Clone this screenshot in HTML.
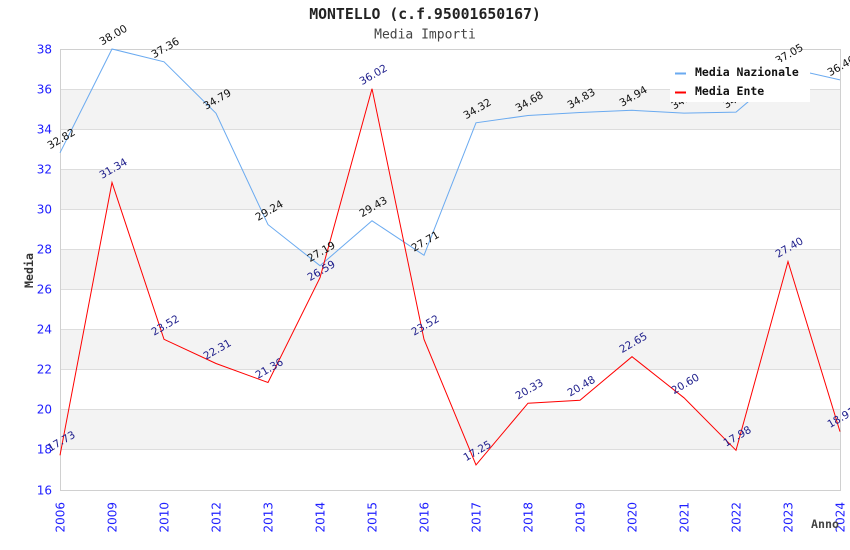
<!DOCTYPE html>
<html><head><meta charset="utf-8"><style>
html,body{margin:0;padding:0;background:#fff;}
svg{display:block;}
.t{font-family:"DejaVu Sans","Liberation Sans",sans-serif;}
.m{font-family:"DejaVu Sans Mono","Liberation Mono",monospace;}
</style></head><body>
<svg width="850" height="550" viewBox="0 0 850 550" xmlns="http://www.w3.org/2000/svg">
<rect width="850" height="550" fill="#fff"/>
<!-- bands -->
<g fill="#f3f3f3">
<rect x="60" y="89.5" width="780" height="40"/>
<rect x="60" y="169.5" width="780" height="40"/>
<rect x="60" y="249.5" width="780" height="40"/>
<rect x="60" y="329.5" width="780" height="40"/>
<rect x="60" y="409.5" width="780" height="40"/>
</g>
<!-- grid -->
<g stroke="#dddddd" stroke-width="1">
<line x1="60" x2="840" y1="89.5" y2="89.5"/>
<line x1="60" x2="840" y1="129.5" y2="129.5"/>
<line x1="60" x2="840" y1="169.5" y2="169.5"/>
<line x1="60" x2="840" y1="209.5" y2="209.5"/>
<line x1="60" x2="840" y1="249.5" y2="249.5"/>
<line x1="60" x2="840" y1="289.5" y2="289.5"/>
<line x1="60" x2="840" y1="329.5" y2="329.5"/>
<line x1="60" x2="840" y1="369.5" y2="369.5"/>
<line x1="60" x2="840" y1="409.5" y2="409.5"/>
<line x1="60" x2="840" y1="449.5" y2="449.5"/>
</g>
<!-- border -->
<rect x="60.5" y="49.5" width="780" height="441" fill="none" stroke="#d0d0d0" stroke-width="1"/>
<!-- title -->
<text class="m" x="425" y="19" text-anchor="middle" font-size="14.8" font-weight="bold" fill="#222">MONTELLO (c.f.95001650167)</text>
<text class="m" x="425" y="38.5" text-anchor="middle" font-size="13" fill="#444">Media Importi</text>
<!-- y ticks -->
<g class="t" font-size="12" fill="#2020ff" text-anchor="end">
<text x="52" y="53.5">38</text>
<text x="52" y="93.5">36</text>
<text x="52" y="133.5">34</text>
<text x="52" y="173.5">32</text>
<text x="52" y="213.5">30</text>
<text x="52" y="253.5">28</text>
<text x="52" y="293.5">26</text>
<text x="52" y="333.5">24</text>
<text x="52" y="373.5">22</text>
<text x="52" y="413.5">20</text>
<text x="52" y="453.5">18</text>
<text x="52" y="494.5">16</text>
</g>
<!-- x ticks -->
<g class="t" font-size="12" fill="#2020ff" text-anchor="end">
<text transform="translate(64.5,502) rotate(-90)">2006</text>
<text transform="translate(116.5,502) rotate(-90)">2009</text>
<text transform="translate(168.5,502) rotate(-90)">2010</text>
<text transform="translate(220.5,502) rotate(-90)">2012</text>
<text transform="translate(272.5,502) rotate(-90)">2013</text>
<text transform="translate(324.5,502) rotate(-90)">2014</text>
<text transform="translate(376.5,502) rotate(-90)">2015</text>
<text transform="translate(428.5,502) rotate(-90)">2016</text>
<text transform="translate(480.5,502) rotate(-90)">2017</text>
<text transform="translate(532.5,502) rotate(-90)">2018</text>
<text transform="translate(584.5,502) rotate(-90)">2019</text>
<text transform="translate(636.5,502) rotate(-90)">2020</text>
<text transform="translate(688.5,502) rotate(-90)">2021</text>
<text transform="translate(740.5,502) rotate(-90)">2022</text>
<text transform="translate(792.5,502) rotate(-90)">2023</text>
<text transform="translate(844.5,502) rotate(-90)">2024</text>
</g>
<!-- axis titles -->
<text class="m" transform="translate(33,270.5) rotate(-90)" text-anchor="middle" font-size="11.6" font-weight="bold" fill="#333">Media</text>
<text class="m" x="811" y="528" font-size="11.6" font-weight="bold" fill="#444">Anno</text>
<!-- series -->
<polyline fill="none" stroke="#6aaaf0" stroke-width="1" points="60,152.8 112,49 164,61.8 216,113.3 268,224.6 320,265.7 372,220.8 424,255.3 476,122.8 528,115.5 580,112.5 632,110.3 684,113.1 736,112.1 788,68 840,79.9"/>
<polyline fill="none" stroke="#ff0000" stroke-width="1" points="60,455.3 112,182.5 164,339.3 216,363.5 268,382.5 320,277.7 372,88.7 424,339.3 476,464.9 528,403.2 580,400.2 632,356.7 684,397.8 736,450.3 788,261.5 840,431.6"/>
<!-- labels nazionale -->
<g class="t" font-size="10.5" fill="#111" text-anchor="middle">
<text transform="translate(63,141.8) rotate(-30)">32.82</text>
<text transform="translate(115,38) rotate(-30)">38.00</text>
<text transform="translate(167,50.8) rotate(-30)">37.36</text>
<text transform="translate(219,102.3) rotate(-30)">34.79</text>
<text transform="translate(271,213.6) rotate(-30)">29.24</text>
<text transform="translate(323,254.7) rotate(-30)">27.19</text>
<text transform="translate(375,209.8) rotate(-30)">29.43</text>
<text transform="translate(427,244.3) rotate(-30)">27.71</text>
<text transform="translate(479,111.8) rotate(-30)">34.32</text>
<text transform="translate(531,104.5) rotate(-30)">34.68</text>
<text transform="translate(583,101.5) rotate(-30)">34.83</text>
<text transform="translate(635,99.3) rotate(-30)">34.94</text>
<text transform="translate(687,102.1) rotate(-30)">34.80</text>
<text transform="translate(739,101.1) rotate(-30)">34.85</text>
<text transform="translate(791,57) rotate(-30)">37.05</text>
<text transform="translate(843,68.9) rotate(-30)">36.46</text>
</g>
<!-- labels ente -->
<g class="t" font-size="10.5" fill="#1c1c8a" text-anchor="middle">
<text transform="translate(63,444.3) rotate(-30)">17.73</text>
<text transform="translate(115,171.5) rotate(-30)">31.34</text>
<text transform="translate(167,328.3) rotate(-30)">23.52</text>
<text transform="translate(219,352.5) rotate(-30)">22.31</text>
<text transform="translate(271,371.5) rotate(-30)">21.36</text>
<text transform="translate(323,273.7) rotate(-30)">26.59</text>
<text transform="translate(375,77.7) rotate(-30)">36.02</text>
<text transform="translate(427,328.3) rotate(-30)">23.52</text>
<text transform="translate(479,453.9) rotate(-30)">17.25</text>
<text transform="translate(531,392.2) rotate(-30)">20.33</text>
<text transform="translate(583,389.2) rotate(-30)">20.48</text>
<text transform="translate(635,345.7) rotate(-30)">22.65</text>
<text transform="translate(687,386.8) rotate(-30)">20.60</text>
<text transform="translate(739,439.3) rotate(-30)">17.98</text>
<text transform="translate(791,250.5) rotate(-30)">27.40</text>
<text transform="translate(843,420.6) rotate(-30)">18.91</text>
</g>
<!-- legend -->
<rect x="670" y="62" width="140" height="40" fill="#fff"/>
<line x1="675" x2="686" y1="73.5" y2="73.5" stroke="#6aaaf0" stroke-width="2"/>
<line x1="675" x2="686" y1="92.5" y2="92.5" stroke="#ff0000" stroke-width="2"/>
<g class="m" font-size="11.5" font-weight="bold" fill="#111">
<text x="695" y="76">Media Nazionale</text>
<text x="695" y="95">Media Ente</text>
</g>
</svg>
</body></html>
